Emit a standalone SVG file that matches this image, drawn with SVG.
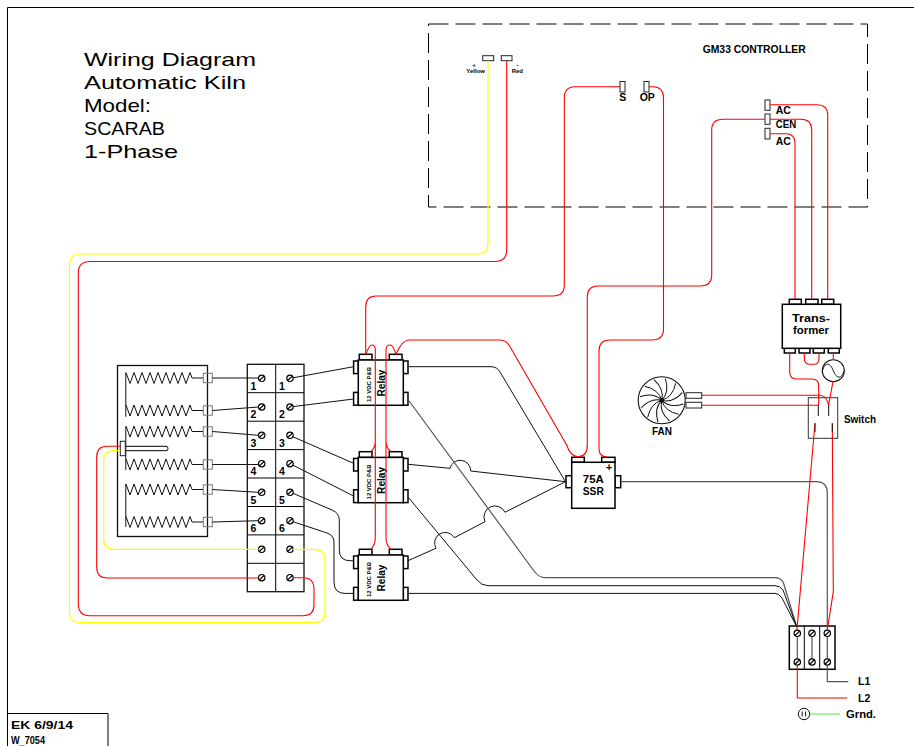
<svg xmlns="http://www.w3.org/2000/svg" xmlns:xlink="http://www.w3.org/1999/xlink" width="914" height="746" viewBox="0 0 914 746">
<style>
text{font-family:"Liberation Sans",Arial,sans-serif;font-weight:bold;fill:#000;font-size:10.5px}
.title{font-weight:normal;font-size:18.5px}
.mid{text-anchor:middle}
.small{font-size:6px}
.ln{fill:none;stroke:#000;stroke-width:1}
.box{fill:#fff;stroke:#000;stroke-width:1.5}
.thin{fill:#fff;stroke:#222;stroke-width:1}
.r{fill:none;stroke:#f00;stroke-width:1.1}
.y{fill:none;stroke:#ff0;stroke-width:1.2}
.k{fill:none;stroke:#111;stroke-width:1}
.g{fill:none;stroke:#555;stroke-width:1.2}
</style>
<defs>
<g id="screw"><circle r="3.2" fill="#fff" stroke="#000" stroke-width="1.2"/><path d="M-2.4 2.2L2.4 -2.2" stroke="#000" stroke-width="1.2"/></g>
<path id="coil" fill="none" stroke="#111" stroke-width="1" d="M0 -5.5l4 11 4 -11 4 11 4 -11 4 11 4 -11 4 11 4 -11 4 11 4 -11 4 11 4 -11 4 11 4 -11 4 11 4 -11l2 5.5H77"/>
<rect id="tab" x="0" y="-4.7" width="9" height="9.4" fill="none" stroke="#777" stroke-width="1"/>
<path id="blade" fill="none" stroke="#111" stroke-width="1" d="M0 0Q11 -3 14 -17"/>
<g id="relay">
<rect x="-4.7" y="1" width="4.7" height="12.6" class="box"/><rect x="-4.7" y="32.4" width="4.7" height="12.8" class="box"/>
<rect x="45" y="1" width="4.7" height="12.6" class="box"/><rect x="45" y="32.4" width="4.7" height="12.8" class="box"/>
<rect x="1" y="-5.7" width="12.7" height="5.7" class="box"/><rect x="31" y="-5.7" width="12.7" height="5.7" class="box"/>
<rect x="0" y="0" width="45" height="45.3" class="box"/>
</g>
</defs>

<g id="frame">
<path class="ln" stroke-width="1.5" d="M914 7.5H7.5V746"/>
<path class="ln" d="M7.5 713.5H108V746"/>
<text x="11" y="729.3" textLength="62" lengthAdjust="spacingAndGlyphs">EK 6/9/14</text>
<text x="11" y="744" textLength="34" lengthAdjust="spacingAndGlyphs">W_7054</text>
</g>

<g id="title">
<text class="title" x="84" y="66" textLength="172" lengthAdjust="spacingAndGlyphs">Wiring Diagram</text>
<text class="title" x="84" y="89" textLength="162" lengthAdjust="spacingAndGlyphs">Automatic Kiln</text>
<text class="title" x="84" y="112" textLength="67" lengthAdjust="spacingAndGlyphs">Model:</text>
<text class="title" x="84" y="135" textLength="81" lengthAdjust="spacingAndGlyphs">SCARAB</text>
<text class="title" x="84" y="158" textLength="94" lengthAdjust="spacingAndGlyphs">1-Phase</text>
</g>

<g id="controller">
<rect x="428.5" y="24" width="439" height="183" fill="none" stroke="#000" stroke-width="1" stroke-dasharray="20 7"/>
<text x="702.7" y="53.3" textLength="103" lengthAdjust="spacingAndGlyphs">GM33 CONTROLLER</text>
<rect x="482.7" y="55.7" width="11" height="5" class="thin"/>
<rect x="501.3" y="55.7" width="10.7" height="5" class="thin"/>
<text class="small mid" x="474" y="66.5">+</text>
<text class="small mid" x="475.7" y="72.5">Yellow</text>
<text class="small mid" x="517.5" y="66.5">-</text>
<text class="small mid" x="517.3" y="72.5">Red</text>
<rect x="620" y="81.5" width="5" height="10.5" class="thin"/>
<rect x="644" y="81.5" width="5" height="10.5" class="thin"/>
<text class="mid" x="622.7" y="101.3">S</text>
<text class="mid" x="647.3" y="101.3">OP</text>
<rect x="765" y="100" width="5" height="10.3" class="thin"/>
<rect x="765" y="114" width="5" height="10.3" class="thin"/>
<rect x="765" y="128.3" width="5" height="10.7" class="thin"/>
<text x="775.7" y="114">AC</text>
<text x="775.7" y="127.7" textLength="20.5" lengthAdjust="spacingAndGlyphs">CEN</text>
<text x="775.7" y="145">AC</text>
</g>

<g id="heating-elements">
<rect x="117.5" y="365.5" width="90" height="171" fill="#fff" stroke="#111" stroke-width="1.3"/>
<path class="k" stroke-width="1.2" d="M125.8 372.7V416.7M125.8 426.7V470M125.8 484V527"/>
<use href="#coil" xlink:href="#coil" transform="translate(126 378)"/>
<use href="#coil" xlink:href="#coil" transform="translate(126 410.5)"/>
<use href="#coil" xlink:href="#coil" transform="translate(126 431.5)"/>
<use href="#coil" xlink:href="#coil" transform="translate(126 464.5)"/>
<use href="#coil" xlink:href="#coil" transform="translate(126 489.5)"/>
<use href="#coil" xlink:href="#coil" transform="translate(126 522)"/>
<use href="#tab" xlink:href="#tab" transform="translate(203.3 378)"/>
<use href="#tab" xlink:href="#tab" transform="translate(203.3 410.5)"/>
<use href="#tab" xlink:href="#tab" transform="translate(203.3 431.5)"/>
<use href="#tab" xlink:href="#tab" transform="translate(203.3 464.5)"/>
<use href="#tab" xlink:href="#tab" transform="translate(203.3 489.5)"/>
<use href="#tab" xlink:href="#tab" transform="translate(203.3 522)"/>
<path class="ln" d="M125.3 446.3H166Q168 446.3 168 448.5T166 450.7H125.3"/>
<rect x="120.3" y="441.3" width="5" height="14.4" class="thin"/>
</g>

<g id="terminal-block">
<rect x="247.3" y="364.3" width="56.7" height="227.4" fill="#fff" stroke="#111" stroke-width="1.3"/>
<path class="ln" stroke-width="1.2" d="M275.7 364.3V591.7M247.3 392.7H304M247.3 421.2H304M247.3 449.6H304M247.3 478H304M247.3 506.5H304M247.3 534.9H304M247.3 563.3H304"/>
<use href="#screw" xlink:href="#screw" x="261.7" y="378.3"/><use href="#screw" xlink:href="#screw" x="290" y="378.3"/>
<use href="#screw" xlink:href="#screw" x="261.7" y="407"/><use href="#screw" xlink:href="#screw" x="290" y="407"/>
<use href="#screw" xlink:href="#screw" x="261.7" y="435.3"/><use href="#screw" xlink:href="#screw" x="290" y="435.3"/>
<use href="#screw" xlink:href="#screw" x="261.7" y="463.7"/><use href="#screw" xlink:href="#screw" x="290" y="463.7"/>
<use href="#screw" xlink:href="#screw" x="261.7" y="492.3"/><use href="#screw" xlink:href="#screw" x="290" y="492.3"/>
<use href="#screw" xlink:href="#screw" x="261.7" y="520.7"/><use href="#screw" xlink:href="#screw" x="290" y="520.7"/>
<use href="#screw" xlink:href="#screw" x="261.7" y="549.3"/><use href="#screw" xlink:href="#screw" x="290" y="549.3"/>
<use href="#screw" xlink:href="#screw" x="261.7" y="577.7"/><use href="#screw" xlink:href="#screw" x="290" y="577.7"/>
<text class="mid" x="253.5" y="389.5">1</text><text class="mid" x="282" y="389.5">1</text>
<text class="mid" x="253.5" y="418">2</text><text class="mid" x="282" y="418">2</text>
<text class="mid" x="253.5" y="446.5">3</text><text class="mid" x="282" y="446.5">3</text>
<text class="mid" x="253.5" y="474.5">4</text><text class="mid" x="282" y="474.5">4</text>
<text class="mid" x="253.5" y="503.5">5</text><text class="mid" x="282" y="503.5">5</text>
<text class="mid" x="253.5" y="532">6</text><text class="mid" x="282" y="532">6</text>
</g>

<g id="relay-1">
<use href="#relay" xlink:href="#relay" transform="translate(358.3 360)"/>
<text class="mid" transform="translate(385 383) rotate(-90)" textLength="27" lengthAdjust="spacingAndGlyphs">Relay</text>
<text class="small mid" transform="translate(370.5 384.5) rotate(-90)" textLength="35" lengthAdjust="spacingAndGlyphs">12 VDC P&amp;B</text>
</g>
<g id="relay-2">
<use href="#relay" xlink:href="#relay" transform="translate(358.3 457.4)"/>
<text class="mid" transform="translate(385 480.4) rotate(-90)" textLength="27" lengthAdjust="spacingAndGlyphs">Relay</text>
<text class="small mid" transform="translate(370.5 481.9) rotate(-90)" textLength="35" lengthAdjust="spacingAndGlyphs">12 VDC P&amp;B</text>
</g>
<g id="relay-3">
<use href="#relay" xlink:href="#relay" transform="translate(358.3 555)"/>
<text class="mid" transform="translate(385 578) rotate(-90)" textLength="27" lengthAdjust="spacingAndGlyphs">Relay</text>
<text class="small mid" transform="translate(370.5 579.5) rotate(-90)" textLength="35" lengthAdjust="spacingAndGlyphs">12 VDC P&amp;B</text>
</g>

<g id="ssr">
<rect x="571.7" y="457.3" width="12.6" height="5" class="box"/>
<rect x="601.7" y="457.3" width="13.3" height="5" class="box"/>
<rect x="566" y="475.7" width="5.7" height="12" class="box"/>
<rect x="615" y="475.7" width="5.7" height="12" class="box"/>
<rect x="571.7" y="462.3" width="43.3" height="46" class="box"/>
<text class="mid" x="593.3" y="483" textLength="21" lengthAdjust="spacingAndGlyphs">75A</text>
<text class="mid" x="593.3" y="494.5" textLength="21" lengthAdjust="spacingAndGlyphs">SSR</text>
<text class="mid" x="609" y="471">+</text>
</g>

<g id="transformer">
<rect x="789.3" y="299.3" width="12" height="5" class="box"/>
<rect x="805.7" y="299.3" width="12.3" height="5" class="box"/>
<rect x="821.7" y="299.3" width="12" height="5" class="box"/>
<rect x="784.3" y="348.3" width="11" height="4.7" class="box"/>
<rect x="799" y="348.3" width="11" height="4.7" class="box"/>
<rect x="813.3" y="348.3" width="11" height="4.7" class="box"/>
<rect x="828.3" y="348.3" width="11" height="4.7" class="box"/>
<rect x="782.3" y="304.3" width="58.4" height="44" class="box"/>
<text class="mid" x="811" y="322.3" textLength="38" lengthAdjust="spacingAndGlyphs">Trans-</text>
<text class="mid" x="811" y="334" textLength="36" lengthAdjust="spacingAndGlyphs">former</text>
</g>

<g id="lamp">
<circle cx="833.3" cy="370.7" r="11" fill="#fff" stroke="#111" stroke-width="1.1"/>
<path class="k" d="M822.4 370.7C825 362 830 362 833.3 370.7S841.5 379 844.2 370.7"/>
</g>

<g id="fan">
<rect x="686" y="392.7" width="15.7" height="5.6" class="thin"/>
<rect x="686" y="402.3" width="15.7" height="5.7" class="thin"/>
<circle cx="661.7" cy="400.3" r="23.5" fill="#fff" stroke="#111" stroke-width="1.1"/>
<g transform="translate(661.7 400.3)">
<use href="#blade" xlink:href="#blade"/>
<use href="#blade" xlink:href="#blade" transform="rotate(30)"/>
<use href="#blade" xlink:href="#blade" transform="rotate(60)"/>
<use href="#blade" xlink:href="#blade" transform="rotate(90)"/>
<use href="#blade" xlink:href="#blade" transform="rotate(120)"/>
<use href="#blade" xlink:href="#blade" transform="rotate(150)"/>
<use href="#blade" xlink:href="#blade" transform="rotate(180)"/>
<use href="#blade" xlink:href="#blade" transform="rotate(210)"/>
<use href="#blade" xlink:href="#blade" transform="rotate(240)"/>
<use href="#blade" xlink:href="#blade" transform="rotate(270)"/>
<use href="#blade" xlink:href="#blade" transform="rotate(300)"/>
<use href="#blade" xlink:href="#blade" transform="rotate(330)"/>
<circle r="2.2" fill="#111"/>
</g>
<text class="mid" x="662" y="435" textLength="20" lengthAdjust="spacingAndGlyphs">FAN</text>
</g>

<g id="switch">
<rect x="808.3" y="397.7" width="29.4" height="40.6" fill="#fff" stroke="#333" stroke-width="1"/>
<text x="844" y="422.7" textLength="32" lengthAdjust="spacingAndGlyphs">Switch</text>
</g>

<g id="mains-terminal">
<rect x="789.3" y="626" width="45.7" height="43.3" class="box"/>
<path class="ln" stroke-width="1.8" d="M804.3 626V669.3M819.7 626V669.3"/>
<path class="g" stroke-width="1.8" d="M797.3 633.3V662M812 633.3V662M827.3 633.3V662"/>
<use href="#screw" xlink:href="#screw" x="797.3" y="633.3"/><use href="#screw" xlink:href="#screw" x="812" y="633.3"/><use href="#screw" xlink:href="#screw" x="827.3" y="633.3"/>
<use href="#screw" xlink:href="#screw" x="797.3" y="662"/><use href="#screw" xlink:href="#screw" x="812" y="662"/><use href="#screw" xlink:href="#screw" x="827.3" y="662"/>
<text x="858" y="685.3">L1</text>
<text x="858" y="701.7">L2</text>
</g>

<g id="ground">
<circle cx="804" cy="714" r="5.7" fill="#fff" stroke="#111" stroke-width="1"/>
<path class="k" d="M802.2 711.5V716.5M805.6 711.5V716.5"/>
<text x="846" y="717.7" textLength="30" lengthAdjust="spacingAndGlyphs">Grnd.</text>
</g>

<g id="connectors">
<path class="k" d="M212.3 378H258.5M212.3 410.5L258.5 407M212.3 431.5L258.5 435.3M212.3 464.5H258.5M212.3 489.5L258.5 492.3M212.3 522L258.5 520.7"/>
<path class="k" d="M293 377.8L353.6 366.7M293 406.6L353.6 399M293 436.8L353.6 463.3M293 465.2L353.6 496"/>
<path class="k" d="M293 493.3L332 510Q339.3 513 339.3 520V550Q339.3 560.7 350 560.7H353.6"/>
<path class="k" d="M293 521.7L327 533Q334 535.5 334 542V582Q334 593.4 345 593.4H353.6"/>
<path class="k" d="M408 366.7H491Q497 366.7 500 372L565.5 481.7"/>
<path class="k" d="M408 464.3L450 468.3A10.5 10.5 0 0 1 470.7 471L565.5 481.7"/>
<path class="k" d="M408 560.7L436 548.3A10.5 10.5 0 0 1 454.3 537.7L485 521.7A11 11 0 0 1 505 512.3L565.5 481.7"/>
<path class="g" d="M408 399.5L534 571Q539 577.7 545 577.7H775Q781 577.7 783.5 583L796.7 626.7"/>
<path class="k" d="M408 497L477 580Q481.5 585.7 488 585.7H775Q780 585.7 783 590L796.7 626.7"/>
<path class="k" d="M408 593.4H775Q779 593.4 782 598L796.7 626.7"/>
<path class="g" d="M620.7 481.7H816Q827.3 481.7 827.3 493V630"/>
<path class="g" d="M827.3 665V681.7H848.3"/>
<path class="y" d="M488 60.7V243Q488 254 477 254H81Q69.5 254 69.5 265V611Q69.5 622.7 81 622.7H314Q325 622.7 325 612V560Q325 549.3 314 549.3H293"/>
<path class="r" d="M506.7 60.7V250Q506.7 261.5 495 261.5H90Q78.3 261.5 78.3 273V604Q78.3 615.7 90 615.7H303Q314 615.7 314 605V589Q314 577.7 303 577.7H293"/>
<path class="r" d="M120.3 446.3H107Q96.7 446.3 96.7 457V567Q96.7 578 107 578H258.5"/>
<path class="y" d="M120.3 450.7H114Q103.7 450.7 103.7 461V539Q103.7 549.3 114 549.3H258.5"/>
<path class="r" d="M620 86.7H575Q564.3 86.7 564.3 98V285Q564.3 296 553 296H376Q365.7 296 365.7 307V354.3"/>
<path class="r" d="M649 86.7H653Q663.5 86.7 663.5 98V329Q663.5 340 652 340H610Q599 340 599 351V449Q599 456.7 607 456.7"/>
<path class="r" d="M765 119.3H723Q711.7 119.3 711.7 130V275Q711.7 286 700 286H598Q587.3 286 587.3 297V445Q587.3 456.7 578 456.7Q570.5 456.7 566.7 445L510 346.7Q506.5 340 500 340H409Q402 340 396 354.3"/>
<path class="r" d="M366 354.3Q369 345 372 345Q375.3 345 375.3 350V441Q375.3 448 370.7 451.7M375.3 441V538Q375.3 545 370.7 549.3"/>
<path class="r" d="M396 354.3Q393 345 390 345Q386 345 386 350V441Q386 448 391 451.7M386 441V538Q386 545 391 549.3"/>
<path class="r" d="M770 104.7H817Q827.7 104.7 827.7 115V299.3"/>
<path class="r" d="M770 119.3H801Q811.7 119.3 811.7 130V299.3"/>
<path class="r" d="M770 133.7H786Q795 133.7 795 143V299.3"/>
<path class="r" d="M789.7 353V372Q789.7 379 797 379H812Q818.7 379 818.7 386V405"/>
<path class="r" d="M804.3 353V358Q804.3 364.3 810 364.3H814Q819 364.3 819 358V353"/>
<path class="r" d="M833.3 353V359.7"/>
<path class="r" d="M833 381.7L829.5 400Q828.7 403 828.7 405"/>
<path class="r" d="M701.7 395.3H820Q826 395.3 828.7 405"/>
<path class="r" d="M701.7 405.3H818.5"/>
<path class="r" d="M815 423.3L796.9 630"/>
<path class="r" d="M832.3 423.3L833.3 591.7L827.3 630"/>
<path class="k" d="M818.3 405V416M828.7 405V416M815 423.3V432M832.3 423.3V432"/>
<path class="r" d="M797.3 665V698H847.3"/>
<path fill="none" stroke="#66ee66" stroke-width="1.2" d="M809.7 714H840"/>
</g>
</svg>
